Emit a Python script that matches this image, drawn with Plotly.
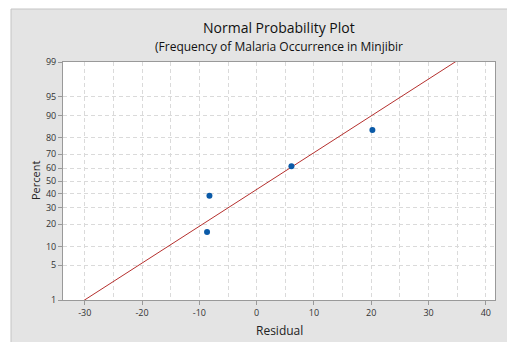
import plotly.graph_objects as go
from statistics import NormalDist

nd = NormalDist()

# Data
residuals = [-8.66, -8.24, 6.07, 20.2]
percents = [15.9, 38.6, 61.4, 84.1]
tick_percents = [1, 5, 10, 20, 30, 40, 50, 60, 70, 80, 90, 95, 99]
x_ticks = [-30, -20, -10, 0, 10, 20, 30, 40]
fit_mean = 2.3
fit_sd = 13.9

z_pts = [nd.inv_cdf(p / 100) for p in percents]
z_ticks = [nd.inv_cdf(p / 100) for p in tick_percents]
z_lo, z_hi = nd.inv_cdf(0.01), nd.inv_cdf(0.99)
line_z = [z_lo - 0.3, z_hi + 0.3]
line_x = [fit_mean + z * fit_sd for z in line_z]

# page body has an 8px margin, so work in shifted coordinates
OFF = 8
W, H = 515 - OFF, 342 - OFF
L, T = 63 - OFF, 62 - OFF
R = W - (495 - OFF)
B = H - (300 - OFF)
pw, ph = W - L - R, H - T - B

def px(xpix):
    return (xpix - OFF - L) / pw

def py(ypix):
    return (H - B - (ypix - OFF)) / ph

fig = go.Figure()
fig.add_trace(go.Scatter(x=line_x, y=line_z, mode="lines",
                         line=dict(color="#b5302e", width=1), hoverinfo="skip"))
fig.add_trace(go.Scatter(x=residuals, y=z_pts, mode="markers",
                         marker=dict(color="#0a5aa8", size=6)))

fig.add_shape(type="rect", xref="paper", yref="paper", layer="below",
              x0=px(11), x1=px(530), y0=py(360), y1=py(9),
              fillcolor="#e4e4e4", line=dict(color="#c4c4c4", width=1))
fig.add_shape(type="rect", xref="paper", yref="paper", layer="below",
              x0=0, x1=1, y0=0, y1=1, fillcolor="white", line=dict(width=0))

fig.add_annotation(text="Normal Probability Plot", xref="paper", yref="paper",
                   x=0.5, y=py(27), showarrow=False, xanchor="center", yanchor="middle",
                   borderpad=0, font=dict(family="Open Sans", size=14, color="#111"))
fig.add_annotation(text="(Frequency of Malaria Occurrence in Minjibir", xref="paper", yref="paper",
                   x=0.5, y=py(46), showarrow=False, xanchor="center", yanchor="middle",
                   borderpad=0, font=dict(family="Open Sans", size=12, color="#111"))
fig.add_annotation(text="Residual", xref="paper", yref="paper",
                   x=0.5, y=py(330), showarrow=False, xanchor="center", yanchor="middle",
                   borderpad=0, font=dict(family="Open Sans", size=12, color="#222"))
fig.add_annotation(text="Percent", xref="paper", yref="paper", textangle=-90,
                   x=px(35), y=py(181), showarrow=False, xanchor="center", yanchor="middle",
                   borderpad=0, font=dict(family="Open Sans", size=11, color="#222"))

gdash = "4px,3px"
gcol = "#dadada"
grid = dict(showgrid=True, gridcolor=gcol, griddash=gdash, gridwidth=1)
fig.update_xaxes(range=[-33.8, 41.6], tickvals=x_ticks, ticktext=[str(v) for v in x_ticks],
                 ticks="outside", ticklen=4, automargin=False,
                 tickcolor="#999", showline=True, linecolor="#999", mirror=True,
                 zeroline=False, tickfont=dict(size=9, color="#333"),
                 minor=dict(dtick=5, ticks="", showgrid=True, gridcolor=gcol, griddash=gdash),
                 **grid)
fig.update_yaxes(range=[z_lo, z_hi], tickvals=z_ticks, ticktext=[str(p) for p in tick_percents],
                 ticks="outside", ticklen=4, tickcolor="#999", showline=True, linecolor="#999",
                 mirror=True, zeroline=False, tickfont=dict(size=9, color="#333"),
                 automargin=False, **grid)
fig.update_layout(width=W, height=H, margin=dict(l=L, r=R, t=T, b=B),
                  paper_bgcolor="white", plot_bgcolor="white", showlegend=False,
                  font=dict(family="Open Sans"))
fig.write_html("out.html")
